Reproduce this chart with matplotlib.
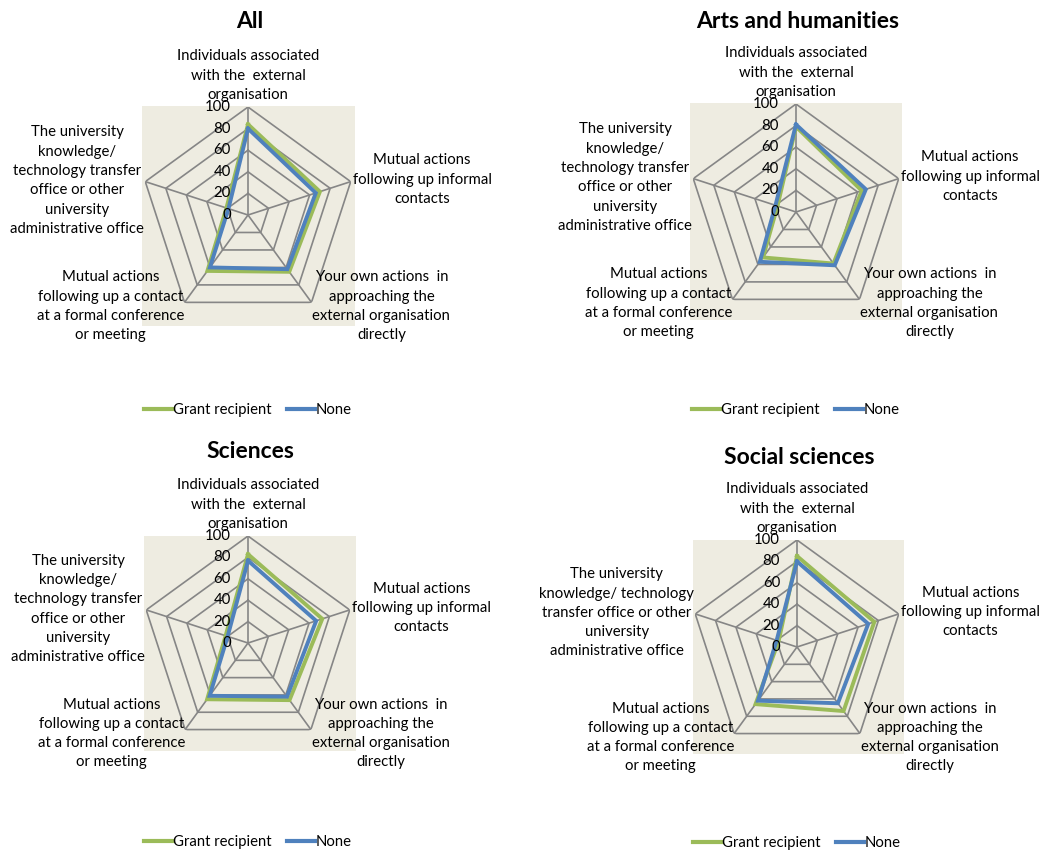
"""
Radar charts: how contacts with external organisations were initiated,
grant recipients vs. none, for all respondents and by discipline.
"""
import numpy as np
import matplotlib.pyplot as plt
from matplotlib.patches import Rectangle

plt.rcParams['font.family'] = ['Lato', 'DejaVu Sans']

# axis order: top, then clockwise
categories = ['Individuals associated with the external organisation',
              'Mutual actions following up informal contacts',
              'Your own actions in approaching the external organisation directly',
              'Mutual actions following up a contact at a formal conference or meeting',
              'The university knowledge/ technology transfer office or other university administrative office']

series_names = ['Grant recipient', 'None']
panel_titles = ['All', 'Arts and humanities', 'Sciences', 'Social sciences']

all_grant = [84, 70, 65, 64, 21]
all_none = [80, 66, 62, 60, 19]
arts_grant = [79, 64, 59, 52, 18]
arts_none = [81, 68, 61, 57, 20]
sci_grant = [83, 73, 66, 65, 22]
sci_none = [77, 67, 62, 61, 20]
soc_grant = [85, 76, 74, 66, 18]
soc_none = [80, 70, 65, 62, 20]

r_ticks = [0, 20, 40, 60, 80, 100]

labels_std = ['Individuals associated\nwith the  external\norganisation',
              'Mutual actions\nfollowing up informal\ncontacts',
              'Your own actions  in\napproaching the\nexternal organisation\ndirectly',
              'Mutual actions\nfollowing up a contact\nat a formal conference\nor meeting',
              'The university\nknowledge/\ntechnology transfer\noffice or other\nuniversity\nadministrative office']
labels_soc = labels_std[:4] + ['The university\nknowledge/ technology\ntransfer office or other\nuniversity\nadministrative office']

GREEN = '#9BBB59'
BLUE = '#4F81BD'
GRID = '#868686'
PLOT_BG = '#EEECE1'

W, H = 1043, 851
fig = plt.figure(figsize=(W / 100, H / 100), dpi=100)

# per panel: centre (px), radius (px), plot-area box (x0, y0, x1, y1 px), title y, legend y
panels = [
    dict(data=(all_grant, all_none), labels=labels_std, c=(248, 215), R=108,
         box=(142, 106, 355, 326), ty=21, ly=410),
    dict(data=(arts_grant, arts_none), labels=labels_std, c=(796, 212), R=108,
         box=(690, 103, 902, 320), ty=21, ly=410),
    dict(data=(sci_grant, sci_none), labels=labels_std, c=(248, 643), R=107,
         box=(144, 536, 356, 751), ty=452, ly=842),
    dict(data=(soc_grant, soc_none), labels=labels_soc, c=(797, 647), R=107,
         box=(693, 540, 904, 754), ty=458, ly=843),
]

n = len(categories)
theta = np.linspace(0, 2 * np.pi, n, endpoint=False)
theta_closed = np.append(theta, theta[0])

# label anchors: (ha, va, dx, dy) in pixels from the outer vertex
anchors = [('center', 'bottom', 0, 5),
           ('left', 'center', 2, 2),
           ('left', 'center', 1, -4),
           ('right', 'center', 0, -4),
           ('right', 'center', -1, 1)]

for title, p in zip(panel_titles, panels):
    cx, cy = p['c']
    R = p['R']
    x0, y0, x1, y1 = p['box']
    fig.add_artist(Rectangle((x0 / W, 1 - y1 / H), (x1 - x0) / W, (y1 - y0) / H,
                             transform=fig.transFigure, facecolor=PLOT_BG,
                             edgecolor='none', zorder=0))

    ax = fig.add_axes([(cx - R) / W, 1 - (cy + R) / H, 2 * R / W, 2 * R / H],
                      projection='polar')
    ax.set_theta_offset(np.pi / 2)
    ax.set_theta_direction(-1)
    ax.set_ylim(0, 100)
    ax.axis('off')

    # pentagon web
    for r in r_ticks[1:]:
        ax.plot(theta_closed, [r] * (n + 1), color=GRID, lw=1.2, zorder=1)
    for t in theta:
        ax.plot([t, t], [0, 100], color=GRID, lw=1.2, zorder=1)

    for vals, col in zip(p['data'], [GREEN, BLUE]):
        vals = list(vals) + [vals[0]]
        ax.plot(theta_closed, vals, color=col, lw=2.8, zorder=3, solid_joinstyle='miter')

    for r in r_ticks:
        ax.annotate(str(r), xy=(0, r), xytext=(-17, 0), textcoords='offset pixels',
                    ha='right', va='center', fontsize=10.7, zorder=4)

    for t, lab, (ha, va, dx, dy) in zip(theta, p['labels'], anchors):
        ax.annotate(lab, xy=(t, 100), xytext=(dx, dy), textcoords='offset pixels',
                    ha=ha, va=va, multialignment='center', fontsize=10.7,
                    linespacing=1.48, annotation_clip=False)

    fig.text(cx / W + 0.002, 1 - p['ty'] / H, title, ha='center', va='center',
             fontsize=16.5, fontweight='bold')

    handles = [plt.Line2D([], [], color=c, lw=3) for c in [GREEN, BLUE]]
    ax.legend(handles, series_names, loc='center', ncol=2, frameon=False,
              bbox_to_anchor=(cx / W, 1 - p['ly'] / H), bbox_transform=fig.transFigure,
              fontsize=10.7, handlelength=1.9, handletextpad=0.05, columnspacing=1.0)

fig.savefig('out.png', dpi=100, facecolor='white')
